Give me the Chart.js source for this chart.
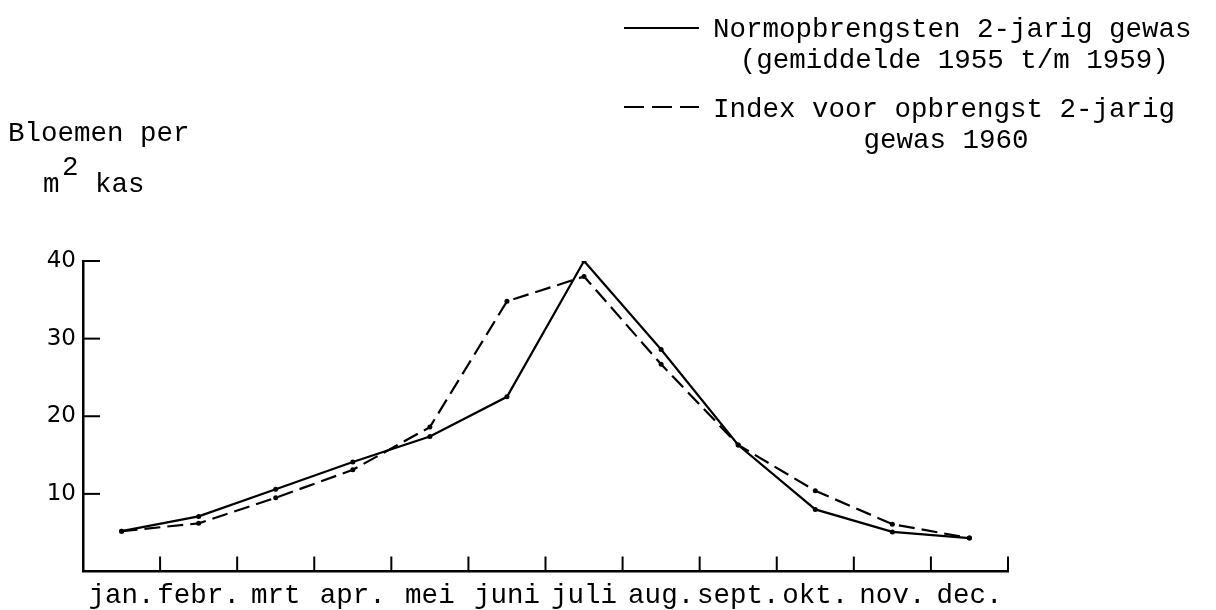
<!DOCTYPE html>
<html>
<head>
<meta charset="utf-8">
<script src="https://cdn.jsdelivr.net/npm/chart.js@4/dist/chart.umd.min.js"></script>
<style>
  html, body { margin: 0; padding: 0; background: #fff; }
  #wrap { width: 1216px; height: 610px; position: relative; }
</style>
</head>
<body>
<div id="wrap"><canvas id="bloemenChart"></canvas></div>
<script>
// months along the x axis
const months = ["jan.", "febr.", "mrt", "apr.", "mei", "juni", "juli", "aug.", "sept.", "okt.", "nov.", "dec."];

// flowers per m2 greenhouse
const normValues = [5.2, 7.1, 10.6, 14.1, 17.4, 22.5, 40.0, 28.6, 16.3, 8.0, 5.1, 4.3];
const indexValues = [5.2, 6.2, 9.5, 13.1, 18.6, 34.8, 38.0, 26.7, 16.3, 10.4, 6.1, 4.3];

const normLabel = ["Normopbrengsten 2-jarig gewas", "(gemiddelde 1955 t/m 1959)"];
const indexLabel = ["Index voor opbrengst 2-jarig", "gewas 1960"];
const yTicks = [10, 20, 30, 40];

const typeFont = "27.5px 'Liberation Mono', 'Courier New', monospace";

// short tick marks pointing into the plot, like the typed original
const innerTicks = {
  id: "innerTicks",
  afterDraw(chart) {
    const ctx = chart.ctx;
    const x = chart.scales.x;
    const y = chart.scales.y;
    ctx.save();
    ctx.strokeStyle = "#000";
    ctx.lineWidth = 2;
    for (let i = 0; i <= months.length; i++) {
      const px = x.getPixelForValue(i - 0.5);
      ctx.beginPath();
      ctx.moveTo(px, y.bottom);
      ctx.lineTo(px, y.bottom - 15);
      ctx.stroke();
    }
    yTicks.forEach(v => {
      const py = y.getPixelForValue(v);
      ctx.beginPath();
      ctx.moveTo(x.left, py);
      ctx.lineTo(x.left + 17, py);
      ctx.stroke();
    });
    ctx.restore();
  }
};

// legend block at the top right and the unit text at the top left
const typedTexts = {
  id: "typedTexts",
  afterDraw(chart) {
    const ctx = chart.ctx;
    ctx.save();
    ctx.fillStyle = "#000";
    ctx.strokeStyle = "#000";
    ctx.font = typeFont;
    ctx.textBaseline = "alphabetic";

    const blocks = [
      { ds: chart.data.datasets[0], y: 37, sampleY: 28, dash: [] },
      { ds: chart.data.datasets[1], y: 117, sampleY: 107, dash: [20, 8] }
    ];
    blocks.forEach(b => {
      ctx.lineWidth = 2;
      ctx.setLineDash(b.dash);
      ctx.beginPath();
      ctx.moveTo(624, b.sampleY);
      ctx.lineTo(699, b.sampleY);
      ctx.stroke();
      ctx.setLineDash([]);
      const lines = b.ds.label.split("\n");
      const w = ctx.measureText(lines[0]).width;
      ctx.textAlign = "left";
      ctx.fillText(lines[0], 713, b.y);
      ctx.textAlign = "center";
      ctx.fillText(lines[1], 713 + w / 2 + 2, b.y + 31);
    });

    ctx.textAlign = "left";
    ctx.fillText("Bloemen per", 8, 141);
    ctx.fillText("m", 43, 192);
    ctx.fillText("2", 62, 175);
    ctx.fillText("kas", 95, 192);
    ctx.restore();
  }
};

const ctx = document.getElementById("bloemenChart").getContext("2d");

new Chart(ctx, {
  type: "line",
  data: {
    labels: months,
    datasets: [{
      label: normLabel.join("\n"),
      data: normValues,
      borderColor: "#000",
      backgroundColor: "#000",
      borderWidth: 2.2,
      pointRadius: 2.5,
      pointBorderWidth: 0,
      tension: 0
    }, {
      label: indexLabel.join("\n"),
      data: indexValues,
      borderColor: "#000",
      backgroundColor: "#000",
      borderWidth: 2.2,
      borderDash: [16, 7],
      pointRadius: 2.5,
      pointBorderWidth: 0,
      tension: 0
    }]
  },
  options: {
    responsive: true,
    maintainAspectRatio: false,
    animation: false,
    layout: { padding: { top: 261, right: 208, left: 0, bottom: 0 } },
    plugins: {
      legend: { display: false },
      title: { display: false },
      tooltip: { enabled: false }
    },
    scales: {
      x: {
        offset: true,
        grid: { display: false, drawTicks: false },
        border: { display: true, color: "#000", width: 2.5 },
        ticks: {
          color: "#000",
          font: { family: "'Liberation Mono', 'Courier New', monospace", size: 27.5 },
          padding: 8,
          maxRotation: 0,
          autoSkip: false
        },
        afterFit(scale) { scale.height = 38.5; }
      },
      y: {
        min: 0,
        max: 40,
        grid: { display: false, drawTicks: false },
        border: { display: true, color: "#000", width: 2.5 },
        ticks: {
          stepSize: 10,
          color: "#000",
          padding: 7,
          font: { family: "'DejaVu Sans', sans-serif", size: 23 },
          callback: v => (v === 0 ? "" : v)
        },
        afterFit(scale) { scale.width = 83; }
      }
    }
  },
  plugins: [innerTicks, typedTexts]
});
</script>
</body>
</html>
